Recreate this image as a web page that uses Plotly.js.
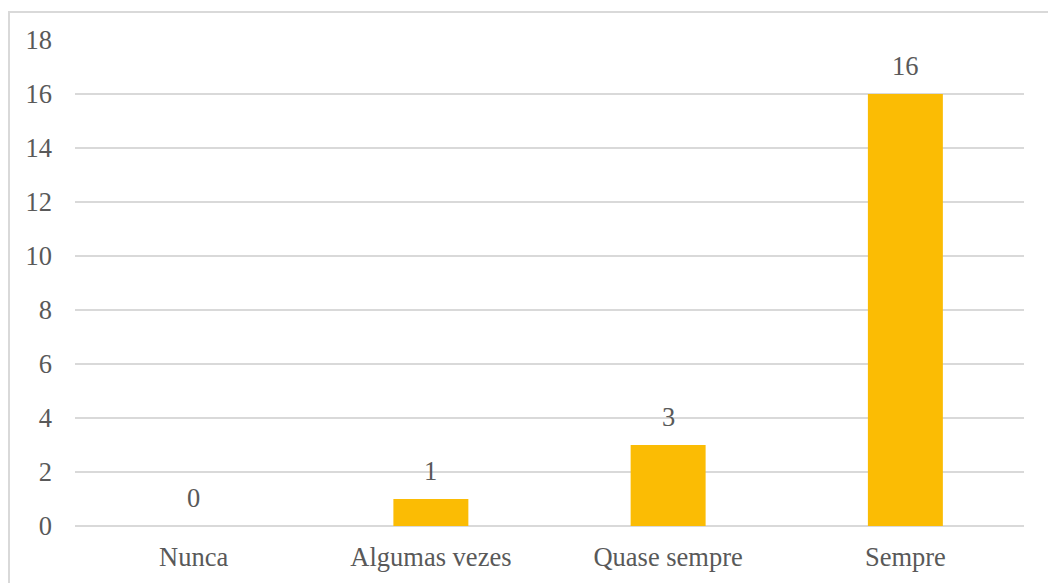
<!DOCTYPE html>
<html>
<head>
<meta charset="utf-8">
<script src="https://cdn.plot.ly/plotly-3.0.1.min.js"></script>
<style>
  html, body { margin: 0; padding: 0; background: #ffffff; }
  #wrap { position: relative; width: 1048px; height: 583px; overflow: hidden; }
  #chart { width: 1048px; height: 583px; }
  #frame {
    position: absolute; left: 8px; top: 11px; width: 1100px; height: 640px;
    border: 2px solid #d9d9d9; box-sizing: border-box; pointer-events: none;
  }
</style>
</head>
<body>
<div id="wrap">
  <div id="chart"></div>
  <div id="frame"></div>
</div>
<script>
// Answer frequency categories and counts
const categories = ["Nunca", "Algumas vezes", "Quase sempre", "Sempre"];
const counts = [0, 1, 3, 16];
const yTicks = [0, 2, 4, 6, 8, 10, 12, 14, 16, 18];

const textColor = "#595959";
const fontFamily = "'Liberation Serif', 'Times New Roman', serif";
const fontSize = 26.5;
const barColor = "#FBBC04";

const bars = {
  type: "bar",
  x: categories,
  y: counts,
  marker: { color: barColor, line: { width: 0 } },
  hoverinfo: "x+y",
  cliponaxis: false
};

// Value labels sit a fixed distance above each bar top
const valueLabels = categories.map((c, i) => ({
  x: c,
  y: counts[i],
  xref: "x",
  yref: "y",
  text: String(counts[i]),
  showarrow: false,
  yanchor: "bottom",
  yshift: 11,
  font: { family: fontFamily, size: fontSize, color: textColor }
}));

const layout = {
  width: 1048,
  height: 583,
  margin: { l: 75, r: 24, t: 40, b: 57 },
  paper_bgcolor: "#ffffff",
  plot_bgcolor: "#ffffff",
  showlegend: false,
  bargap: 0.684,
  font: { family: fontFamily, size: fontSize, color: textColor },
  xaxis: {
    type: "category",
    range: [-0.5, 3.5],
    showgrid: false,
    zeroline: false,
    showline: false,
    ticks: "",
    ticklabelstandoff: 12,
    tickfont: { family: fontFamily, size: fontSize, color: textColor },
    fixedrange: true
  },
  yaxis: {
    range: [0, 18],
    tickvals: yTicks,
    ticktext: yTicks.map(String),
    showgrid: true,
    gridcolor: "#d9d9d9",
    gridwidth: 1.5,
    zeroline: true,
    zerolinecolor: "#d9d9d9",
    zerolinewidth: 1.5,
    showline: false,
    ticks: "",
    ticklabelstandoff: 22,
    tickfont: { family: fontFamily, size: fontSize, color: textColor },
    fixedrange: true
  },
  annotations: valueLabels
};

Plotly.newPlot("chart", [bars], layout, { displayModeBar: false, staticPlot: true });
</script>
</body>
</html>
